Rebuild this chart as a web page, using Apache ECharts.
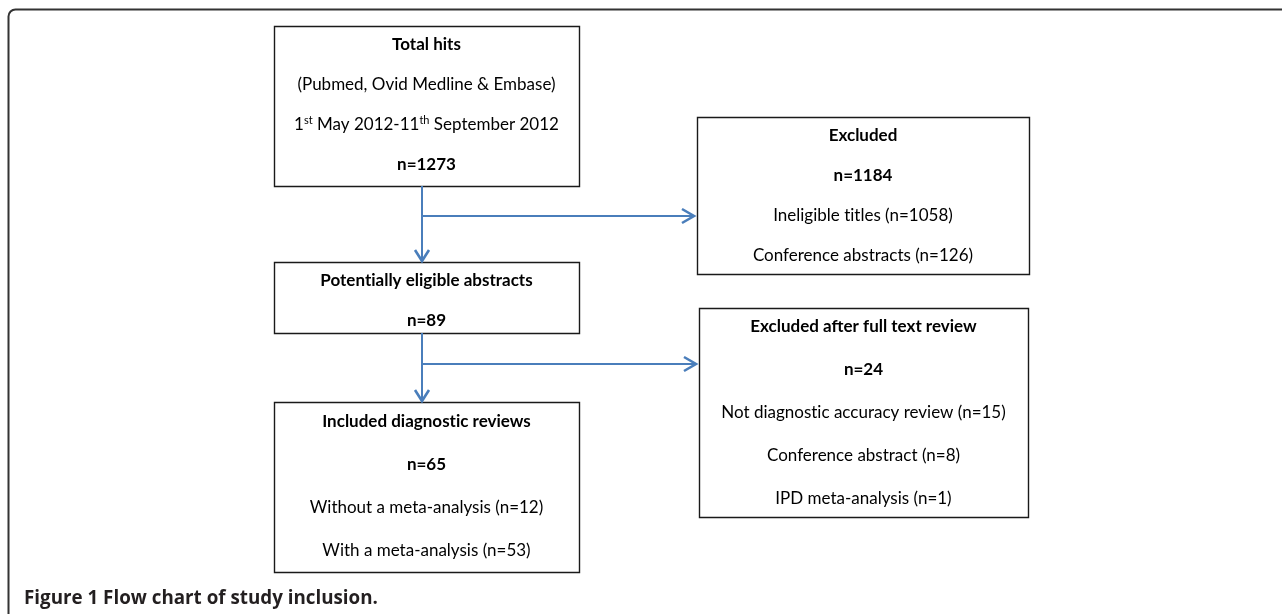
<!DOCTYPE html>
<html>
<head>
<meta charset="utf-8">
<script src="https://cdn.jsdelivr.net/npm/echarts@6/dist/echarts.min.js"></script>
<style>
  html, body { margin: 0; padding: 0; background: #fff; }
  #chart { width: 1282px; height: 614px; }
</style>
</head>
<body>
<div id="chart"></div>
<script>
// --- data ---
var boxTitles = ['Total hits', 'Excluded', 'Potentially eligible abstracts', 'Excluded after full text review', 'Included diagnostic reviews'];
var boxCounts = [1273, 1184, 89, 24, 65];
var boxDetails = [
  ['(Pubmed, Ovid Medline & Embase)', '1{sup|st} May 2012-11{sup|th} September 2012'],
  ['Ineligible titles (n=1058)', 'Conference abstracts (n=126)'],
  [],
  ['Not diagnostic accuracy review (n=15)', 'Conference abstract (n=8)', 'IPD meta-analysis (n=1)'],
  ['Without a meta-analysis (n=12)', 'With a meta-analysis (n=53)']
];
// flow steps: from box -> next box (down) and excluded box (side)
var stepFrom = [0, 2];
var stepNext = [2, 4];
var stepExcluded = [1, 3];
var caption = 'Figure 1 Flow chart of study inclusion.';

// --- layout (pixel space of the 1282x614 canvas) ---
var boxRects = [[274, 26, 579, 186], [697, 117, 1029, 274], [274, 262, 579, 333], [699, 308, 1028, 517], [274, 402, 579, 572]];
var firstLineY = [45, 136, 281, 327, 422];
var lineGap = [40, 40, 40, 43, 43];
var branchY = [216, 364];
var trunkX = 422;

var FONT = 'Lato';
var BLUE = '#4a7ebb';

// Lato joins "ti" into a ligature, the original font doesn't
function noLig(s) { return s.replace(/ti/g, 't\u200Ci'); }

function boxLines(i) {
  var n = 'n=' + boxCounts[i];
  if (i === 0) {
    return [{ t: boxTitles[i], b: true }].concat(boxDetails[i].map(function (d) { return { t: d }; }), [{ t: n, b: true }]);
  }
  return [{ t: boxTitles[i], b: true }, { t: n, b: true }].concat(boxDetails[i].map(function (d) { return { t: d }; }));
}

var chart = echarts.init(document.getElementById('chart'));

chart.setOption({
  animation: false,
  title: {
    text: caption,
    left: 24,
    top: 589,
    padding: 0,
    textStyle: { fontFamily: 'Open Sans', fontWeight: 'bold', fontSize: 18.8, color: '#231f20' }
  },
  grid: { left: 0, top: 0, right: 0, bottom: 0 },
  xAxis: { type: 'value', min: 0, max: 1282, show: false },
  yAxis: { type: 'value', min: 0, max: 614, inverse: true, show: false },
  graphic: [{
    type: 'rect',
    shape: { x: 8.5, y: 9.5, width: 1400, height: 800, r: 7 },
    style: { fill: 'none', stroke: '#333', lineWidth: 2 },
    silent: true
  }],
  series: [
    {
      type: 'custom',
      coordinateSystem: 'cartesian2d',
      data: boxTitles.map(function (t, i) { return [i]; }),
      renderItem: function (params, api) {
        var i = api.value(0);
        var r = boxRects[i];
        var p1 = api.coord([r[0], r[1]]);
        var p2 = api.coord([r[2], r[3]]);
        var cx = (p1[0] + p2[0]) / 2;
        var children = [{
          type: 'rect',
          shape: { x: Math.round(p1[0]) + 0.5, y: Math.round(p1[1]) + 0.5, width: Math.round(p2[0] - p1[0]), height: Math.round(p2[1] - p1[1]) },
          style: { fill: '#fff', stroke: '#1a1a1a', lineWidth: 1.4 }
        }];
        boxLines(i).forEach(function (ln, k) {
          var y = api.coord([0, firstLineY[i] + k * lineGap[i]])[1];
          children.push({
            type: 'text',
            x: cx,
            y: y,
            style: {
              text: noLig(ln.t),
              fill: '#000',
              fontFamily: FONT,
              fontSize: 17,
              fontWeight: ln.b ? 'bold' : 'normal',
              align: 'center',
              verticalAlign: 'middle',
              lineHeight: 20,
              rich: { sup: { fontSize: 11, fontFamily: FONT, verticalAlign: 'top', lineHeight: 20, fill: '#000' } }
            }
          });
        });
        return { type: 'group', children: children };
      }
    },
    {
      type: 'custom',
      coordinateSystem: 'cartesian2d',
      data: stepFrom.map(function (f, s) { return [s]; }),
      renderItem: function (params, api) {
        var s = api.value(0);
        var from = boxRects[stepFrom[s]];
        var next = boxRects[stepNext[s]];
        var exc = boxRects[stepExcluded[s]];
        var top = api.coord([trunkX, from[3]]);
        var bottom = api.coord([trunkX, next[1] - 1]);
        var branch = api.coord([trunkX, branchY[s]]);
        var tip = api.coord([exc[0] - 3, branchY[s]]);
        var ls = { stroke: BLUE, lineWidth: 2, fill: 'none' };
        var hs = { stroke: BLUE, lineWidth: 2.6, fill: 'none', lineJoin: 'miter' };
        return {
          type: 'group',
          children: [
            { type: 'polyline', shape: { points: [top, bottom] }, style: ls },
            { type: 'polyline', shape: { points: [branch, tip] }, style: ls },
            { type: 'polyline', shape: { points: [[bottom[0] - 7, bottom[1] - 11], bottom, [bottom[0] + 7, bottom[1] - 11]] }, style: hs },
            { type: 'polyline', shape: { points: [[tip[0] - 12, tip[1] - 7], tip, [tip[0] - 12, tip[1] + 7]] }, style: hs }
          ]
        };
      }
    }
  ]
});
</script>
</body>
</html>
